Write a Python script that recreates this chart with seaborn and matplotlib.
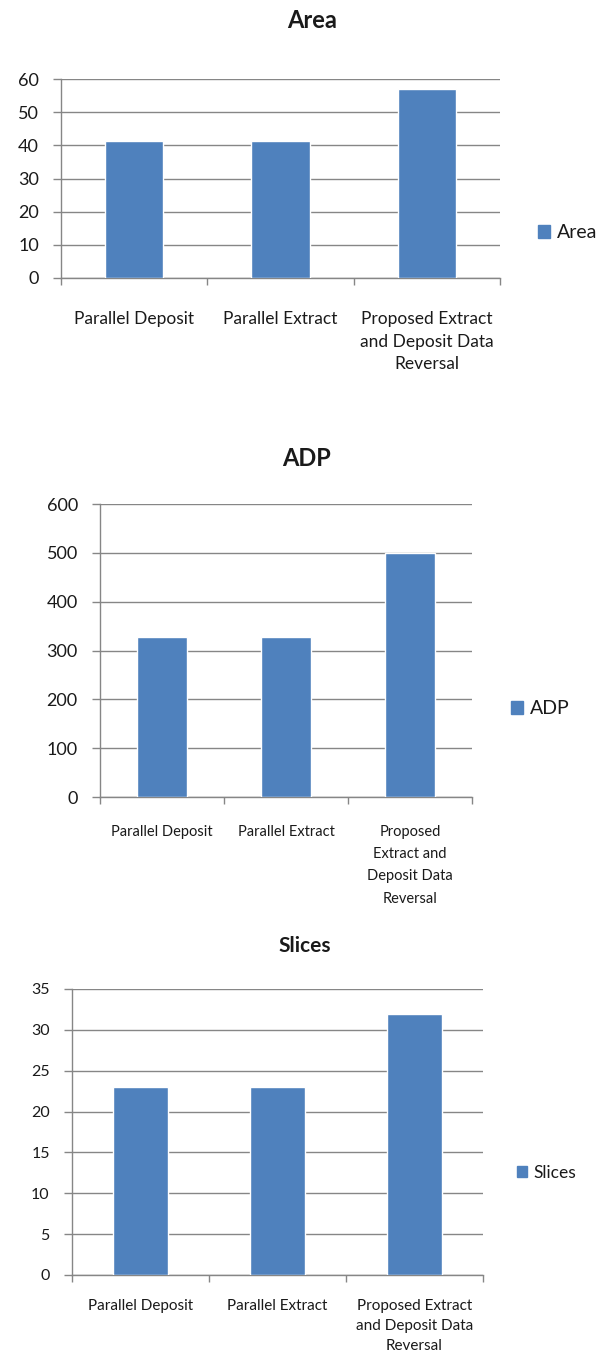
import matplotlib

matplotlib.use("Agg")
import matplotlib.pyplot as plt
import matplotlib.patches as mpatches
import pandas as pd
import seaborn as sns


# ====== DATA =====
categories = ["Parallel Deposit", "Parallel Extract", "Proposed Extract and Deposit Data Reversal"]

area_values = [41.4, 41.4, 57]
adp_values = [327, 327, 500]
slices_values = [23, 23, 32]

area_ticklabels = ["Parallel Deposit", "Parallel Extract", "Proposed Extract\nand Deposit Data\nReversal"]
adp_ticklabels = ["Parallel Deposit", "Parallel Extract", "Proposed\nExtract and\nDeposit Data\nReversal"]
slices_ticklabels = ["Parallel Deposit", "Parallel Extract", "Proposed Extract\nand Deposit Data\nReversal"]

area_yticks = [0, 10, 20, 30, 40, 50, 60]
adp_yticks = [0, 100, 200, 300, 400, 500, 600]
slices_yticks = [0, 5, 10, 15, 20, 25, 30, 35]

BAR_COLOR = "#4F81BD"
GRID_COLOR = "#868686"
TEXT_COLOR = "#1a1a1a"

W, H = 603, 1353


# ====== METHODS =====
def px_axes(fig, left, top, right, bottom):
    """Add axes given in pixel coordinates (origin top-left)."""
    return fig.add_axes([left / W, 1 - bottom / H, (right - left) / W, (bottom - top) / H])


def excel_bar(fig, box, values, ticklabels, yticks, title, title_xy, title_size,
              legend_xy, legend_size, ytick_size, xtick_size, xpad, xspacing):
    ax = px_axes(fig, *box)
    data = pd.DataFrame({"category": categories, "value": values})

    sns.barplot(data=data, x="category", y="value", color=BAR_COLOR,
                width=0.4, saturation=1, ax=ax, zorder=3)

    ax.set_xlim(-0.5, len(categories) - 0.5)
    ax.set_ylim(yticks[0], yticks[-1])
    ax.set_yticks(yticks)
    ax.set_xticks(range(len(categories)))
    ax.set_xticklabels(ticklabels, fontsize=xtick_size, color=TEXT_COLOR, linespacing=xspacing)
    ax.set_xticks([i - 0.5 for i in range(len(categories) + 1)], minor=True)
    ax.tick_params(axis="x", which="major", bottom=True, length=0, pad=xpad)
    ax.tick_params(axis="x", which="minor", bottom=True, length=5, color=GRID_COLOR, width=1)
    ax.tick_params(axis="y", left=True, length=6, color=GRID_COLOR, width=1,
                   labelsize=ytick_size, labelcolor=TEXT_COLOR, pad=10)

    ax.set_xlabel("")
    ax.set_ylabel("")
    ax.grid(axis="y", color=GRID_COLOR, linewidth=1, zorder=0)
    ax.grid(axis="x", visible=False)
    ax.set_axisbelow(True)

    for side in ["top", "right"]:
        ax.spines[side].set_visible(False)
    for side in ["left", "bottom"]:
        ax.spines[side].set_color(GRID_COLOR)
        ax.spines[side].set_linewidth(1)
    ax.set_facecolor("white")

    fig.text(title_xy[0] / W, 1 - title_xy[1] / H, title, ha="center", va="center",
             fontsize=title_size, fontweight="bold", color=TEXT_COLOR)

    handle = mpatches.Patch(color=BAR_COLOR, label=title)
    fig.legend(handles=[handle], loc="center left",
               bbox_to_anchor=(legend_xy[0] / W, 1 - legend_xy[1] / H),
               frameon=False, fontsize=legend_size, handlelength=0.6, handleheight=0.6,
               handletextpad=0.35, borderaxespad=0, borderpad=0,
               labelcolor=TEXT_COLOR)
    return ax


# ===== MAIN =====
if __name__ == "__main__":
    sns.set_theme(style="white")
    plt.rcParams["font.family"] = ["Lato", "DejaVu Sans"]

    fig = plt.figure(figsize=(W / 100, H / 100), dpi=100)
    fig.patch.set_facecolor("white")

    excel_bar(fig, (61, 79, 500, 278), area_values, area_ticklabels, area_yticks,
              "Area", (312, 21), 17, (538, 233), 14, 13, 12.5, 24, 1.5)
    excel_bar(fig, (100, 504, 472, 797), adp_values, adp_ticklabels, adp_yticks,
              "ADP", (307, 459), 17, (511, 709), 14, 13, 10.5, 20, 1.75)
    excel_bar(fig, (72, 989, 483, 1275), slices_values, slices_ticklabels, slices_yticks,
              "Slices", (305, 946), 15, (517, 1173), 12.5, 11.5, 11, 17, 1.55)

    fig.savefig("out.png", dpi=100, facecolor="white")
